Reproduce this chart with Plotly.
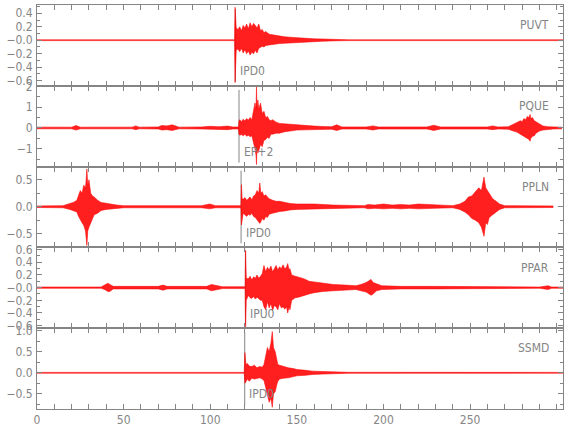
import plotly.graph_objects as go

# ---------------- data ----------------
stations = ["PUVT", "PQUE", "PPLN", "PPAR", "SSMD"]
phase_names = ["IPD0", "EP+2", "IPD0", "IPU0", "IPD0"]
phase_times = [114.5, 116.6, 117.8, 120.3, 119.9]

# envelope of each trace: time (s), upper and lower amplitude
puvt_t = [0, 114.0, 114.3, 114.6, 115, 116, 117, 118, 119, 120, 121, 122, 123, 124, 125, 126, 127, 128,
          129, 130, 131, 132, 134, 136, 138, 140, 143, 146, 150, 155, 160, 165, 170, 175, 180, 303.6]
puvt_up = [.006, .006, .49, .30, .18, .16, .20, .14, .22, .18, .24, .17, .26, .20, .25, .22, .18, .24,
           .14, .16, .11, .13, .09, .08, .07, .06, .05, .045, .035, .03, .02, .018, .012, .008, .006, .006]
puvt_lo = [-.006, -.006, -.63, -.35, -.15, -.13, -.17, -.12, -.19, -.14, -.20, -.16, -.22, -.18, -.20, -.15, -.19, -.12,
           -.11, -.09, -.10, -.08, -.07, -.06, -.055, -.05, -.045, -.04, -.03, -.025, -.02, -.015, -.01, -.008, -.006, -.006]

pque_t = [0, 20, 22.6, 25, 55, 57, 59, 70, 72, 75, 78, 80, 82, 95, 100, 105, 110, 113, 116.3, 116.6, 117, 118,
          119, 120, 121, 122, 123, 124, 125, 125.8, 126.4, 126.7, 127.0, 127.5, 128, 129, 130, 131, 132, 133,
          134, 135, 136, 138, 140, 143, 146, 150, 155, 160, 165, 170, 173, 176, 190, 194, 197, 225, 229, 233,
          260, 263, 266, 272, 275, 277, 279, 280, 281, 282, 283, 284, 284.6, 285, 286, 287, 288, 290, 292,
          295, 298, 303]
pque_up = [.04, .04, .12, .04, .04, .10, .04, .05, .12, .10, .15, .08, .04, .05, .08, .06, .09, .05, .05, .35, .40, .30,
           .42, .35, .45, .38, .50, .40, .80, 1.2, .90, 1.97, 1.0, 1.35, .90, 1.2, .70, .80, .50, .55,
           .40, .35, .40, .28, .22, .20, .15, .12, .10, .09, .07, .06, .15, .05, .05, .10, .05, .05, .13, .05,
           .05, .10, .05, .06, .18, .25, .35, .30, .45, .40, .55, .50, .65, .45, .50, .35, .30, .18, .10,
           .06, .05, .04]
pque_lo = [-.04, -.04, -.10, -.04, -.04, -.08, -.04, -.05, -.10, -.08, -.12, -.08, -.04, -.05, -.07, -.06, -.08, -.05, -.05, -.30, -.35, -.32,
           -.38, -.30, -.40, -.35, -.42, -.38, -.70, -1.0, -1.3, -1.76, -.90, -1.2, -1.1, -.80, -.90, -.60, -.55, -.45,
           -.50, -.30, -.30, -.25, -.25, -.18, -.15, -.10, -.09, -.08, -.07, -.06, -.12, -.05, -.05, -.10, -.05, -.05, -.12, -.05,
           -.05, -.08, -.05, -.06, -.15, -.20, -.30, -.35, -.40, -.45, -.50, -.55, -.64, -.50, -.40, -.38, -.25, -.15, -.10,
           -.06, -.05, -.04]

ppln_t = [0, 15, 19, 21, 23, 24, 25, 26, 27, 28, 28.8, 29.3, 30, 31, 32, 33, 35, 37, 40, 43, 46, 50, 95, 99.7, 103,
          117.7, 118.0, 118.4, 119, 120, 121, 122, 123, 124, 125, 126, 127, 128, 128.6, 129.2, 130, 131, 132, 133,
          134, 136, 138, 140, 143, 146, 150, 160, 171, 180, 189, 191, 195, 200, 205, 210, 215, 220, 225, 229,
          240, 244, 247, 249, 251, 253, 255, 256.5, 258, 259, 260, 261, 263, 265, 267, 270, 298]
ppln_up = [.015, .02, .06, .08, .12, .20, .30, .25, .40, .35, .70, .40, .50, .25, .20, .18, .12, .08, .06, .05, .03, .02, .02, .05, .02,
           .02, .41, .15, .14, .17, .12, .15, .18, .13, .20, .22, .30, .25, .44, .25, .28, .20, .22, .18,
           .15, .12, .10, .10, .08, .06, .05, .05, .03, .02, .02, .04, .03, .05, .03, .04, .03, .05, .04, .03,
           .02, .05, .10, .18, .20, .28, .35, .30, .55, .35, .30, .25, .15, .10, .05, .02, .015]
ppln_lo = [-.015, -.02, -.05, -.07, -.10, -.18, -.25, -.30, -.35, -.45, -.72, -.45, -.38, -.30, -.22, -.15, -.12, -.07, -.05, -.04, -.03, -.02, -.02, -.04, -.02,
           -.02, -.34, -.20, -.12, -.15, -.18, -.14, -.16, -.12, -.18, -.20, -.25, -.30, -.31, -.28, -.22, -.25, -.18, -.20,
           -.14, -.12, -.10, -.09, -.08, -.06, -.05, -.04, -.03, -.02, -.02, -.04, -.03, -.04, -.03, -.04, -.03, -.04, -.04, -.03,
           -.02, -.05, -.10, -.15, -.22, -.25, -.30, -.38, -.55, -.30, -.33, -.20, -.15, -.10, -.05, -.02, -.015]

ppar_t = [0, 37, 39, 40.9, 42, 44, 70, 72.8, 75, 98, 100.7, 104, 107, 120.1, 120.4, 120.8, 122, 123, 124, 125, 126,
          127, 128, 129, 130, 131, 132, 133, 134, 135, 136, 137, 138, 139, 140, 141, 142, 143, 144, 144.7, 145.5,
          146, 147, 149, 151, 153, 155, 157, 160, 165, 171, 178, 184, 187, 190, 192.8, 194, 196, 199, 210, 221,
          224, 229, 290, 295, 297, 303.6]
ppar_up = [.01, .01, .04, .07, .05, .02, .02, .04, .02, .02, .05, .03, .015, .015, .59, .15, .14, .18, .12, .17, .15,
           .20, .15, .18, .22, .35, .25, .32, .28, .34, .25, .30, .35, .28, .33, .30, .36, .30, .32, .38, .28,
           .30, .20, .18, .17, .15, .13, .10, .09, .07, .05, .04, .03, .05, .08, .13, .08, .06, .03, .02, .02,
           .03, .02, .01, .03, .01, .01]
ppar_lo = [-.01, -.01, -.03, -.06, -.06, -.02, -.02, -.04, -.02, -.02, -.05, -.03, -.015, -.015, -.62, -.20, -.12, -.16, -.17, -.14, -.18,
           -.15, -.17, -.20, -.20, -.30, -.35, -.22, -.32, -.25, -.36, -.28, -.30, -.35, -.25, -.32, -.30, -.34, -.30, -.40, -.30,
           -.35, -.20, -.16, -.15, -.13, -.12, -.10, -.08, -.06, -.05, -.04, -.03, -.05, -.07, -.12, -.10, -.05, -.03, -.02, -.02,
           -.03, -.02, -.01, -.03, -.01, -.01]

ssmd_t = [0, 119.6, 120.0, 120.6, 121.5, 122.5, 124, 125.5, 127, 128.5, 130, 131, 132, 133, 134, 135, 135.8,
          136.5, 137.5, 138.3, 139, 140, 142, 145, 148, 150, 155, 159, 165, 173, 180, 303.6]
ssmd_up = [.01, .01, .48, .20, .22, .16, .15, .18, .12, .15, .13, .20, .40, .60, .50, .70, .98,
           .60, .50, .35, .20, .18, .15, .12, .10, .08, .06, .04, .03, .02, .012, .01]
ssmd_lo = [-.01, -.01, -.25, -.22, -.15, -.20, -.13, -.15, -.14, -.12, -.15, -.18, -.35, -.50, -.70, -.60, -.82,
           -.50, -.45, -.30, -.20, -.15, -.13, -.12, -.10, -.07, -.06, -.04, -.03, -.02, -.012, -.01]

traces = [(puvt_t, puvt_up, puvt_lo), (pque_t, pque_up, pque_lo), (ppln_t, ppln_up, ppln_lo),
          (ppar_t, ppar_up, ppar_lo), (ssmd_t, ssmd_up, ssmd_lo)]

# axis tick labels
y_ranges = [[-0.677, 0.523], [-1.86, 2.03], [-0.756, 0.745], [-0.64, 0.635], [-0.86, 1.06]]
y_tickvals = [[0.4, 0.2, 0.0, -0.2, -0.4, -0.6], [2, 1, 0, -1], [0.5, 0.0, -0.5],
              [0.6, 0.4, 0.2, 0.0, -0.2, -0.4, -0.6], [1.0, 0.5, 0.0, -0.5]]
y_ticktext = [["0.4", "0.2", "\u22120.0", "\u22120.2", "\u22120.4", "\u22120.6"],
              ["2", "1", "0", "\u22121"],
              ["0.5", "0.0", "\u22120.5"],
              ["0.6", "0.4", "0.2", "\u22120.0", "\u22120.2", "\u22120.4", "\u22120.6"],
              ["1.0", "0.5", "0.0", "\u22120.5"]]
y_minor = [0.1, 0.5, 0.25, 0.1, 0.25]
x_tickvals = [0, 50, 100, 150, 200, 250]

# ---------------- figure ----------------
GRAY = "#858585"
FONT = "Liberation Sans Narrow, DejaVu Sans Condensed, Arial Narrow, sans-serif"
fig = go.Figure()
n = len(stations)
for i in range(n):
    t, up, lo = traces[i]
    xa = "x" if i == 0 else f"x{i+1}"
    ya = "y" if i == 0 else f"y{i+1}"
    fig.add_trace(go.Scatter(x=t, y=lo, xaxis=xa, yaxis=ya, mode="lines",
                             line=dict(color="rgba(255,0,0,0.9)", width=0.6),
                             hoverinfo="skip", showlegend=False))
    fig.add_trace(go.Scatter(x=t, y=up, xaxis=xa, yaxis=ya, mode="lines", fill="tonexty",
                             fillcolor="rgba(255,0,0,0.88)",
                             line=dict(color="rgba(255,0,0,0.9)", width=0.6),
                             hoverinfo="skip", showlegend=False))
    top = 1 - i / n
    bot = 1 - (i + 1) / n
    xkey = "xaxis" if i == 0 else f"xaxis{i+1}"
    ykey = "yaxis" if i == 0 else f"yaxis{i+1}"
    fig.layout[xkey] = dict(domain=[0, 1], anchor=ya, range=[0, 303.6], automargin=False,
                            showline=True, linecolor=GRAY, linewidth=1, mirror="allticks",
                            ticks="inside", ticklen=5, tickcolor=GRAY,
                            showticklabels=(i == n - 1),
                            tickmode="array", tickvals=list(range(0, 301, 10)),
                            ticktext=[str(v) if v in x_tickvals else "" for v in range(0, 301, 10)],
                            showgrid=False, zeroline=False,
                            tickfont=dict(family=FONT, size=12, color=GRAY))
    fig.layout[ykey] = dict(domain=[bot, top], anchor=xa, range=y_ranges[i], automargin=False,
                            showline=True, linecolor=GRAY, linewidth=1, mirror="allticks",
                            ticks="inside", ticklen=5, tickcolor=GRAY,
                            tickmode="array", tickvals=y_tickvals[i], ticktext=y_ticktext[i],
                            minor=dict(dtick=y_minor[i], ticks="inside", ticklen=3, tickcolor=GRAY),
                            showgrid=False, zeroline=False, ticklabelstandoff=1,
                            tickfont=dict(family=FONT, size=12, color=GRAY))
    fig.add_annotation(text=stations[i], xref=f"{xa} domain", yref=f"{ya} domain",
                       x=0.977, y=0.75, xanchor="right", yanchor="middle", showarrow=False,
                       font=dict(family=FONT, size=12, color=GRAY))
    fig.add_shape(type="line", xref=xa, yref=f"{ya} domain", x0=phase_times[i], x1=phase_times[i],
                  y0=0.05, y1=0.95, line=dict(color=GRAY, width=1), layer="below")
    fig.add_annotation(text=phase_names[i], xref=xa, yref=f"{ya} domain",
                       x=phase_times[i] + 1.5, y=0.18, xanchor="left", yanchor="middle",
                       showarrow=False, font=dict(family=FONT, size=12, color=GRAY))

fig.update_layout(width=580, height=440, margin=dict(l=37, r=17, t=5, b=31),
                  paper_bgcolor="white", plot_bgcolor="white")
fig.write_html("out.html", post_script="document.body.style.margin='0';",
               config={"displayModeBar": False})
